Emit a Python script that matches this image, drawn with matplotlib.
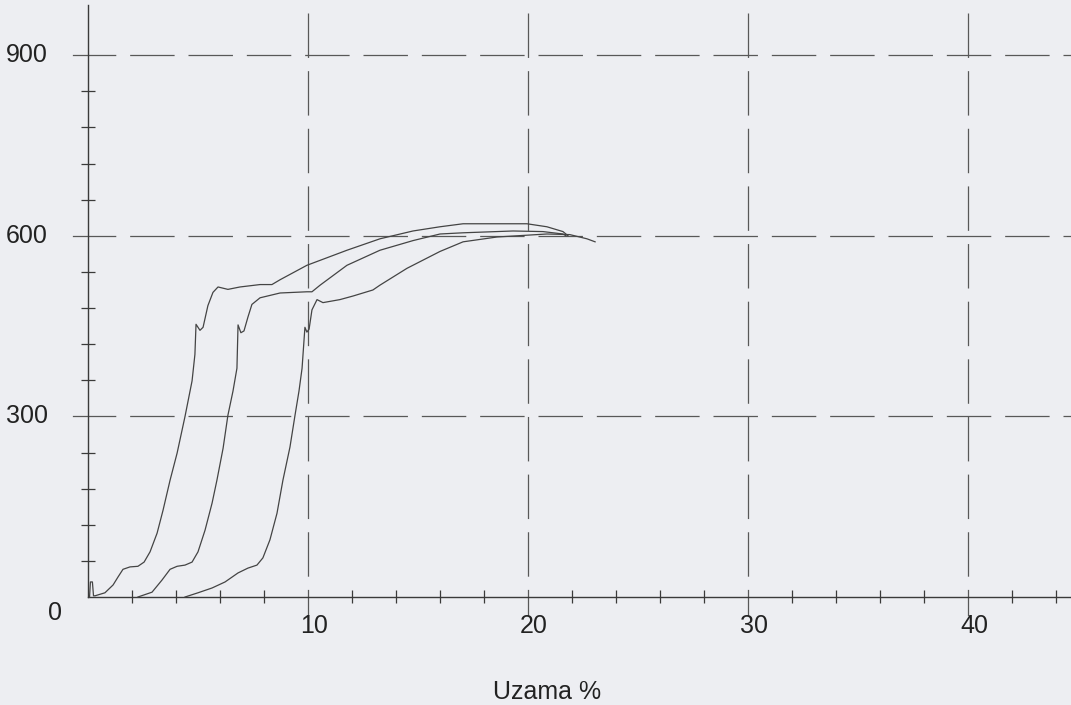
"""Tensile test curves: force vs. elongation (Uzama %) for three specimens."""

import matplotlib

matplotlib.use("Agg")
import matplotlib.pyplot as plt

# --- data ----------------------------------------------------------------
elong_1 = [0.07, 0.11, 0.20, 0.25, 0.32, 0.77, 1.14, 1.36, 1.59, 1.91, 2.27,
           2.55, 2.82, 3.14, 3.41, 3.73, 4.05, 4.41, 4.73, 4.86, 4.91, 5.09,
           5.23, 5.45, 5.68, 5.91, 6.36, 6.91, 7.82, 8.36, 8.73, 9.95, 11.77,
           13.27, 14.77, 16.0, 17.05, 19.95, 20.86, 21.59, 21.82]
force_1 = [0, 25, 25, 2, 2, 7, 20, 33, 46, 50, 51,
           58, 75, 106, 144, 194, 239, 300, 359, 403, 453, 443,
           448, 484, 506, 515, 511, 515, 519, 519, 527, 551, 576,
           595, 608, 615, 620, 620, 615, 607, 600]

elong_2 = [2.27, 2.91, 3.36, 3.73, 4.05, 4.41, 4.73, 5.0, 5.32, 5.64, 5.86,
           6.14, 6.36, 6.59, 6.77, 6.82, 6.95, 7.09, 7.27, 7.45, 7.82, 8.73,
           9.95, 10.18, 10.55, 11.77, 13.27, 14.77, 16.0, 17.05, 19.32, 20.68,
           21.59, 21.73]
force_2 = [0, 8, 28, 46, 51, 53, 58, 75, 111, 156, 194,
           247, 302, 342, 380, 452, 439, 442, 465, 486, 497, 505,
           507, 507, 518, 551, 576, 592, 603, 605, 608, 607,
           603, 600]

elong_3 = [4.41, 5.0, 5.64, 6.23, 6.82, 7.27, 7.68, 7.95, 8.27, 8.59, 8.86,
           9.18, 9.41, 9.59, 9.73, 9.86, 9.95, 10.05, 10.18, 10.41, 10.68,
           11.45, 12.05, 12.95, 13.27, 14.5, 16.0, 17.05, 18.59, 19.5, 20.86,
           21.9, 22.68, 23.05]
force_3 = [0, 7, 15, 25, 40, 48, 53, 65, 95, 139, 194,
           249, 302, 342, 380, 448, 440, 445, 477, 494, 489,
           494, 500, 510, 518, 546, 574, 590, 598, 600, 603,
           602, 595, 590]

x_major = [10, 20, 30, 40]
x_minor = [2, 4, 6, 8, 12, 14, 16, 18, 22, 24, 26, 28, 32, 34, 36, 38, 42, 44]
y_major = [300, 600, 900]
y_minor = [60, 120, 180, 240, 360, 420, 480, 540, 660, 720, 780, 840]

# --- layout (pixels of the 1071x705 output) --------------------------------
W, H = 1071, 705
ORIGIN_PX = (88, 597)
PX_PER_X = 22.0
PX_PER_Y = 0.602

PAPER = "#edeef2"
INK = "#3a3a3a"
CURVE = "#444444"
GRID = "#585858"
TEXT = "#222222"

plt.rcParams["font.family"] = ["Liberation Sans", "DejaVu Sans"]
plt.rcParams["lines.scale_dashes"] = False


def px_x(dx):
    """Pixel offset along x -> data units."""
    return dx / PX_PER_X


def px_y(dy):
    """Pixel offset along y -> data units."""
    return dy / PX_PER_Y


fig = plt.figure(figsize=(W / 100, H / 100), dpi=100, facecolor=PAPER)
ax = fig.add_axes([0, 0, 1, 1], facecolor=PAPER)
x_lo, x_hi = -px_x(ORIGIN_PX[0]), px_x(W - ORIGIN_PX[0])
y_lo, y_hi = -px_y(H - ORIGIN_PX[1]), px_y(ORIGIN_PX[1])
ax.set_xlim(x_lo, x_hi)
ax.set_ylim(y_lo, y_hi)
ax.axis("off")

dash = (0, (32, 9.5))
y_top = px_y(ORIGIN_PX[1] - 13)

# horizontal grid lines (with a short solid stub left of the axis)
for yv in y_major:
    ax.plot([-px_x(15), 0], [yv, yv], color=GRID, lw=0.9)
    ax.plot([0, x_hi], [yv, yv], color=GRID, lw=0.9, linestyle=(12, (32, 10)))

# vertical grid lines, dashed from the top down, solid tick below the axis
for xv in x_major:
    ax.plot([xv, xv], [y_top, 0], color=GRID, lw=0.9, linestyle=dash)
    ax.plot([xv, xv], [-px_y(18), 0], color=GRID, lw=0.9)

# axes lines
ax.plot([0, 0], [0, px_y(ORIGIN_PX[1] - 5)], color=INK, lw=1.0)
ax.plot([0, x_hi], [0, 0], color=INK, lw=1.0)

# minor ticks crossing the axes
ax.vlines(x_minor, -px_y(6), px_y(7), color=INK, lw=0.9)
ax.hlines(y_minor, -px_x(7), px_x(7), color=INK, lw=0.9)

# curves
for xs, ys in [(elong_1, force_1), (elong_2, force_2), (elong_3, force_3)]:
    ax.plot(xs, ys, color=CURVE, lw=0.9, solid_joinstyle="round")

# labels
fs = 18
for yv in y_major:
    ax.text(-px_x(40), yv, str(yv), ha="right", va="center", fontsize=fs, color=TEXT)
for xv in x_major:
    ax.text(xv + px_x(6), -px_y(29), str(xv), ha="center", va="center", fontsize=fs, color=TEXT)
ax.text(-px_x(33), -px_y(16), "0", ha="center", va="center", fontsize=fs, color=TEXT)
ax.text(px_x(547 - ORIGIN_PX[0]), -px_y(95), "Uzama %", ha="center", va="center",
        fontsize=fs, color=TEXT)

fig.savefig("out.png", dpi=100, facecolor=PAPER)
